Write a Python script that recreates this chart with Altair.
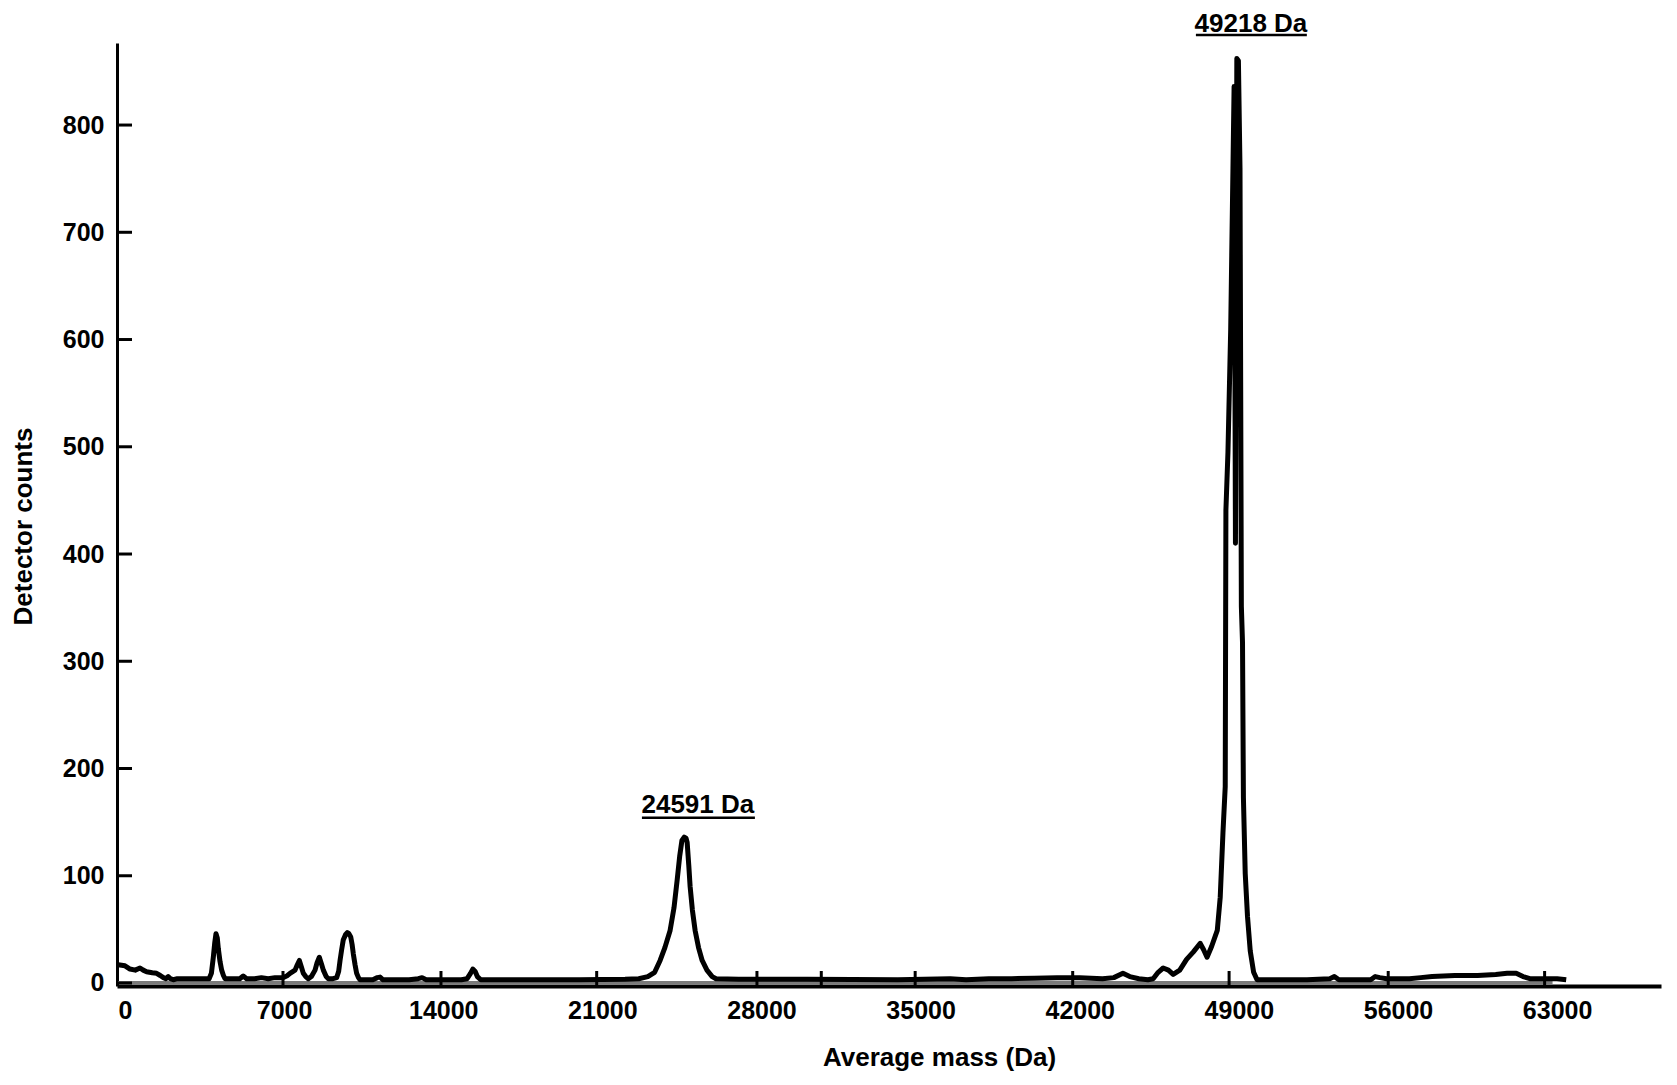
import altair as alt
import pandas as pd

# ---- spectrum trace (Average mass in Da, detector counts) ----
MASS = [
    -300, 0, 220, 450, 660, 800, 950, 1200, 1390, 1550, 1690, 1800, 1900, 2000, 2125, 2300,
    3000, 3700, 3800, 3885, 3950, 4003, 4060, 4105, 4180, 4252, 4330, 4400,
    4800, 5050, 5200, 5350, 5700, 6000, 6300, 6600, 6965, 7150, 7258, 7480, 7580, 7670, 7760,
    7845, 7950, 8065, 8200, 8360, 8450, 8548, 8640, 8725, 8850, 8945, 9150, 9310, 9400, 9460,
    9530, 9600, 9700, 9780, 9850, 9930, 9990, 10045, 10120, 10190, 10270, 10340, 10600, 10900,
    11100, 11220, 11350,
    12500, 12900, 13070, 13250, 14800, 15050, 15200, 15300, 15400, 15500, 15650, 18000, 20000,
    22000, 22600, 23000, 23300, 23540, 23750, 23980, 24150, 24290, 24400, 24500, 24600, 24680,
    24730, 24800, 24860, 24960, 25080, 25230, 25390, 25600, 25830, 26000, 27000,
    30000, 34000, 36300, 37000, 38000, 39000, 40000, 41000, 42000, 43000, 43500, 43900, 44200,
    44600, 45000, 45230, 45450, 45670, 45900, 46110, 46400, 46700, 47000, 47300, 47450, 47600,
    47800, 48050, 48180, 48300, 48400, 48430, 48520, 48640, 48740, 48790, 48850, 48910, 48980,
    49050, 49110, 49160, 49200, 49280, 49380, 49500, 49650, 49800,
    50500, 52000, 53000, 53200, 53400, 54800, 55000, 55200, 55500, 56500, 57000, 57500, 58500,
    59500, 60300, 60800, 61200, 61500, 61800, 62500, 63000, 63400,
]
COUNTS = [
    17, 16, 13, 12, 14, 12, 10.5, 9.5, 9, 7, 5, 4, 6, 4, 3, 4,
    4, 4, 9, 24, 38, 46, 42, 32, 20, 12, 7, 4,
    4, 4, 6.5, 4, 4, 5, 4, 5, 5, 7, 9, 12, 17, 21, 15,
    9, 6, 4, 6, 12, 19, 24, 18, 12, 6, 4, 4, 5, 11, 21,
    31, 40, 45, 47, 46, 43, 36, 27, 17, 9, 5, 3, 3, 3,
    5, 5.5, 3,
    3, 4, 5, 3, 3, 4, 9, 13, 11, 6, 3, 3, 3,
    3.5, 4, 6, 10, 21, 33, 49, 70, 96, 118, 133, 136, 135,
    131, 110, 90, 68, 49, 33, 21, 12, 6, 4, 3.5,
    3.5, 3, 4, 3, 4, 4, 4.5, 5, 5, 4, 5, 9, 6,
    4, 3, 4, 10, 14, 12, 8, 12, 22, 29, 37, 31, 24,
    34, 49, 80, 140, 183, 441, 495, 609, 760, 836, 410, 862, 860,
    760, 351, 318, 173, 102, 62, 30, 10, 3,
    3, 3, 4, 6, 3, 3, 6, 5, 4, 4, 5, 6, 7,
    7, 8, 9, 9, 6, 4, 4, 4, 3,
]

# faint grey trace lying under the black one
GREY_MASS = [-300, 62800]
GREY_COUNTS = [0.4, 0.4]

# axis labels
X_TICK_LABELS = [0, 7000, 14000, 21000, 28000, 35000, 42000, 49000, 56000, 63000]
Y_TICK_LABELS = [0, 100, 200, 300, 400, 500, 600, 700, 800]
# inward x tick marks as they sit in the picture (slightly off the labels)
X_TICK_MARKS = [6950, 13900, 20750, 27800, 30630, 34760, 41690, 48570, 55570, 62450]

# peak annotations
ANNOT_TEXT = ["24591 Da", "49218 Da"]
ANNOT_MASS = [25200, 49530]
ANNOT_COUNT = [166, 894]
UNDER_START = [22740, 47110]
UNDER_END = [27710, 51990]
UNDER_COUNT = [154, 884]

W, H = 1544, 943
XDOM = [-352, 67570]
YDOM = [-2.8, 876.5]
FONT = "Liberation Sans"

spec = pd.DataFrame({"mass": MASS, "counts": COUNTS})
grey = pd.DataFrame({"mass": GREY_MASS, "counts": GREY_COUNTS})
xt = pd.DataFrame({"mass": X_TICK_MARKS})
yt = pd.DataFrame({"counts": Y_TICK_LABELS})
ann = pd.DataFrame({"text": ANNOT_TEXT, "mass": ANNOT_MASS, "counts": ANNOT_COUNT})
und = pd.DataFrame({"mass": UNDER_START, "mass_end": UNDER_END, "counts": UNDER_COUNT})

xs = alt.Scale(domain=XDOM, nice=False, zero=False)
ys = alt.Scale(domain=YDOM, nice=False, zero=False)

X_AXIS = alt.Axis(
    values=X_TICK_LABELS,
    format="d",
    ticks=False,
    grid=False,
    title="Average mass (Da)",
    labelFont=FONT,
    labelFontSize=25,
    labelFontWeight="bold",
    labelPadding=12,
    labelColor="black",
    titleFont=FONT,
    titleFontSize=26,
    titleFontWeight="bold",
    titleX=822,
    titleY=71,
    titleAlign="center",
    titleBaseline="middle",
    titleColor="black",
    domainColor="black",
    domainWidth=4,
)
Y_AXIS = alt.Axis(
    values=Y_TICK_LABELS,
    format="d",
    ticks=False,
    grid=False,
    title="Detector counts",
    labelFont=FONT,
    labelFontSize=25,
    labelFontWeight="bold",
    labelPadding=13,
    labelColor="black",
    titleFont=FONT,
    titleFontSize=26,
    titleFontWeight="bold",
    titleX=-94,
    titleY=483,
    titleAlign="center",
    titleBaseline="middle",
    titleColor="black",
    domainColor="black",
    domainWidth=3,
)

X = alt.X("mass:Q", scale=xs, axis=X_AXIS, title="Average mass (Da)")
Y = alt.Y("counts:Q", scale=ys, axis=Y_AXIS, title="Detector counts")

grey_line = alt.Chart(grey).mark_line(color="#7a7a7a", strokeWidth=3).encode(x=X, y=Y)

line = alt.Chart(spec).mark_line(color="black", strokeWidth=5, strokeJoin="round").encode(
    x=X, y=Y, order=alt.Order("mass:Q")
)

x_ticks = alt.Chart(xt).mark_rule(color="black", strokeWidth=3).encode(
    x=X,
    y=alt.value(H),
    y2=alt.value(H - 15),
)

y_ticks = alt.Chart(yt).mark_rule(color="black", strokeWidth=3).encode(
    y=Y,
    x=alt.value(0),
    x2=alt.value(15),
)

labels = alt.Chart(ann).mark_text(
    font=FONT, fontSize=26, fontWeight="bold", align="center", baseline="middle", color="black"
).encode(x=X, y=Y, text="text:N")

underlines = alt.Chart(und).mark_rule(color="black", strokeWidth=2.5).encode(
    x=X, x2="mass_end:Q", y=Y
)

chart = (
    alt.layer(grey_line, line, x_ticks, y_ticks, labels, underlines)
    .properties(
        width=W,
        height=H,
        autosize=alt.AutoSizeParams(type="none"),
        padding={"left": 109, "top": 35, "right": 8, "bottom": 91},
        background="white",
    )
    .configure_view(stroke=None)
)

chart.save("out.html", embed_options={"renderer": "svg", "actions": False})
